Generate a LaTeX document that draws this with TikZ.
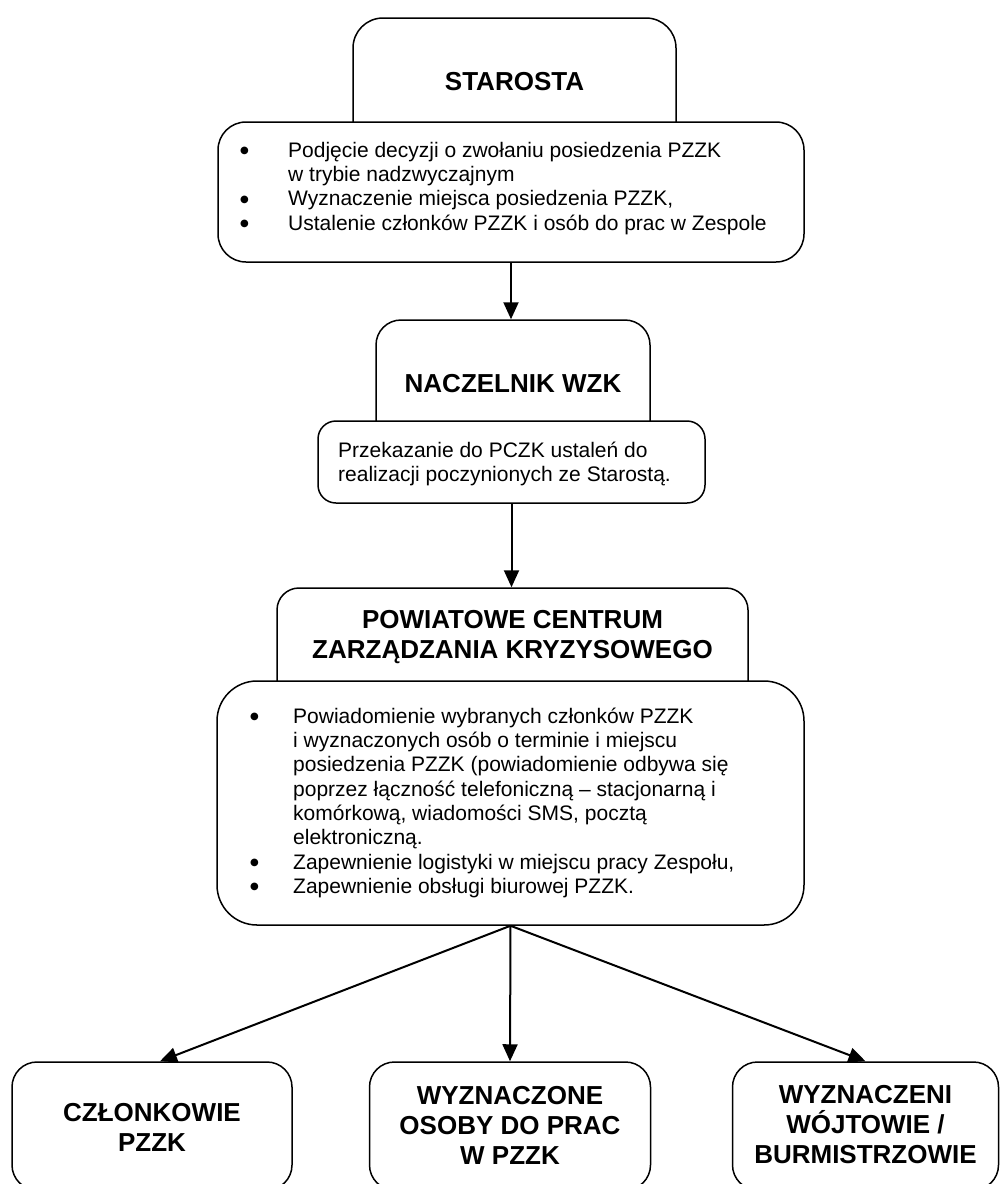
\documentclass[tikz,border=0pt]{standalone}
\usepackage{fontspec}
\setmainfont{Liberation Sans}
\newfontfamily\symfnt{DejaVu Sans}
\usetikzlibrary{arrows.meta}
\newcommand\bodyfnt{\fontsize{21pt}{24.3pt}\selectfont}
\newcommand\titlefnt{\bfseries\fontsize{26pt}{30pt}\selectfont}
\newcommand\mydot{\raisebox{3.5pt}{\symfnt\fontsize{10pt}{10pt}\selectfont ●}}
\newcommand\myitem[2]{\strut\makebox[#1][l]{\mydot}#2}
\newcommand\mycont[2]{\strut\hspace*{#1}#2}
\begin{document}
\begin{tikzpicture}[x=1pt,y=-1pt,
  box/.style={draw, line width=1.5pt, rounded corners=#1, fill=white, inner sep=0pt},
  box/.default=25pt,
  title/.style={font=\titlefnt, align=center, inner sep=0pt},
  body/.style={font=\bodyfnt, align=left, inner sep=0pt, anchor=north west},
  conn/.style={line width=2pt, -{Triangle[length=17pt,width=15pt]}}]
\useasboundingbox (0,0) rectangle (1000,1184);

% STAROSTA
\node[box=30pt, minimum width=323pt, minimum height=160pt] (starosta) at (514.5,98) {};
\node[title] (starostaT) at (514.5,82) {STAROSTA};
\node[box=28pt, minimum width=586pt, minimum height=140pt] (s1) at (511,192) {};
\node[body] (s1t) at (240,140) {\myitem{48pt}{Podjęcie decyzji o zwołaniu posiedzenia PZZK}\\
  \mycont{48pt}{w trybie nadzwyczajnym}\\
  \myitem{48pt}{Wyznaczenie miejsca posiedzenia PZZK,}\\
  \myitem{48pt}{Ustalenie członków PZZK i osób do prac w Zespole}};

% NACZELNIK
\node[box=25pt, minimum width=274pt, minimum height=160pt] (nacz) at (513,400) {};
\node[title] (naczT) at (513,384) {NACZELNIK WZK};
\node[box=18pt, minimum width=387pt, minimum height=82pt] (s2) at (511.5,462) {};
\node[body] (s2t) at (338,440) {\strut Przekazanie do PCZK ustaleń do\\realizacji poczynionych ze Starostą.};

% PCZK
\node[box=22pt, minimum width=471pt, minimum height=160pt] (pcz) at (512.5,668) {};
\node[title] (pczT) at (512.5,637) {POWIATOWE CENTRUM\\ZARZĄDZANIA KRYZYSOWEGO};
\node[box=40pt, minimum width=587pt, minimum height=244pt] (s3) at (510.5,803) {};
\node[body] (s3t) at (250,706) {\myitem{43pt}{Powiadomienie wybranych członków PZZK}\\
  \mycont{43pt}{i wyznaczonych osób o terminie i miejscu}\\
  \mycont{43pt}{posiedzenia PZZK (powiadomienie odbywa się}\\
  \mycont{43pt}{poprzez łączność telefoniczną – stacjonarną i}\\
  \mycont{43pt}{komórkową, wiadomości SMS, pocztą}\\
  \mycont{43pt}{elektroniczną.}\\
  \myitem{43pt}{Zapewnienie logistyki w miejscu pracy Zespołu,}\\
  \myitem{43pt}{Zapewnienie obsługi biurowej PZZK.}};

% bottom boxes
\node[box=25pt, minimum width=280pt, minimum height=128pt] (b1) at (152,1126) {};
\node[title] (b1t) at (152,1127) {CZŁONKOWIE\\PZZK};
\node[box=25pt, minimum width=281pt, minimum height=128pt] (b2) at (510,1126) {};
\node[title] (b2t) at (510,1125) {WYZNACZONE\\OSOBY DO PRAC\\W PZZK};
\node[box=25pt, minimum width=266pt, minimum height=128pt] (b3) at (865.5,1126) {};
\node[title] (b3t) at (865.5,1125) {WYZNACZENI\\WÓJTOWIE /\\BURMISTRZOWIE};

% connectors
\draw[conn] (s1.south) -- (s1.south |- nacz.north);
\draw[conn] (s2.south) -- (s2.south |- pcz.north);
\draw[conn] (s3.south) -- ([xshift=8pt]b1.north);
\draw[conn] (s3.south) -- (b2.north);
\draw[conn] (s3.south) -- (b3.north);
\end{tikzpicture}
\end{document}
